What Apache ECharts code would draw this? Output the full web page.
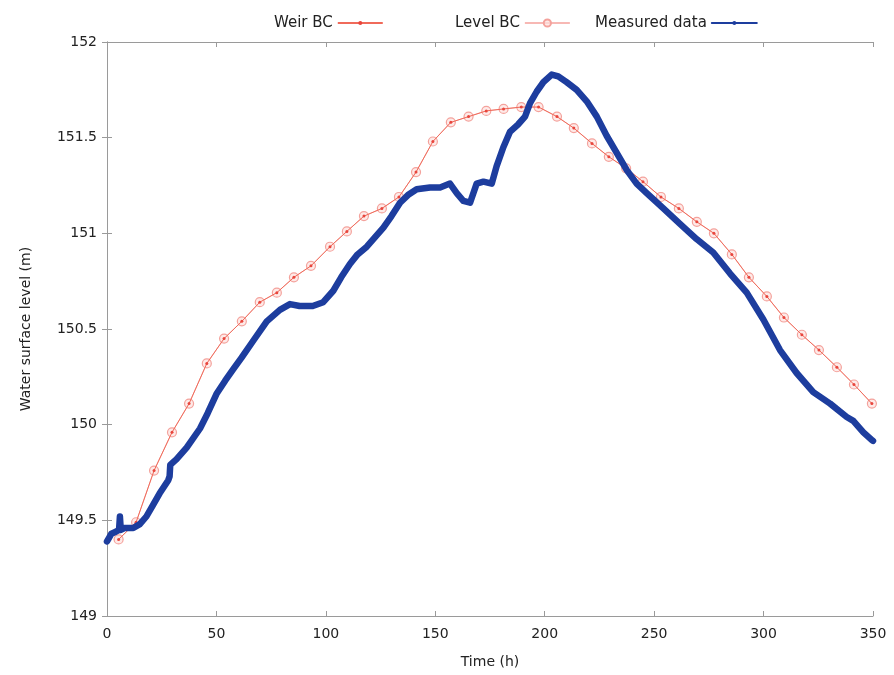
<!DOCTYPE html>
<html>
<head>
<meta charset="utf-8">
<script src="https://cdn.jsdelivr.net/npm/echarts@6/dist/echarts.min.js"></script>
<style>
  html, body { margin: 0; padding: 0; background: #fff; }
  #chart { width: 894px; height: 675px; }
</style>
</head>
<body>
<div id="chart"></div>
<script>
// Boundary-condition model runs (sampled every ~8 h)
const bcTime = [5.3, 13.3, 21.5, 29.7, 37.5, 45.6, 53.5, 61.6, 69.8, 77.6, 85.4, 93.2,
  101.9, 109.6, 117.4, 125.6, 133.4, 141.2, 148.9, 157.1, 165.2, 173.3, 181.2, 189.3,
  197.2, 205.6, 213.3, 221.6, 229.3, 237.2, 244.9, 253.1, 261.3, 269.5, 277.3, 285.5,
  293.3, 301.5, 309.3, 317.5, 325.3, 333.5, 341.3, 349.5];
const weirBC = [149.40, 149.49, 149.76, 149.96, 150.11, 150.32, 150.45, 150.54, 150.64, 150.69, 150.77, 150.83,
  150.93, 151.01, 151.09, 151.13, 151.19, 151.32, 151.48, 151.58, 151.61, 151.64, 151.65, 151.66,
  151.66, 151.61, 151.55, 151.47, 151.40, 151.34, 151.27, 151.19, 151.13, 151.06, 151.00, 150.89,
  150.77, 150.67, 150.56, 150.47, 150.39, 150.30, 150.21, 150.11];
const levelBC = [149.40, 149.49, 149.76, 149.96, 150.11, 150.32, 150.45, 150.54, 150.64, 150.69, 150.77, 150.83,
  150.93, 151.01, 151.09, 151.13, 151.19, 151.32, 151.48, 151.58, 151.61, 151.64, 151.65, 151.66,
  151.66, 151.61, 151.55, 151.47, 151.40, 151.34, 151.27, 151.19, 151.13, 151.06, 151.00, 150.89,
  150.77, 150.67, 150.56, 150.47, 150.39, 150.30, 150.21, 150.11];

// Gauge record
const measuredTime = [0, 1, 2, 4, 5.5, 5.9, 6.3, 8, 12, 15, 18, 21, 24, 28, 28.6, 28.9, 31.8, 36.4,
  42.5, 46, 50, 54, 57.7, 61.5, 66.9, 73, 79, 83.6, 88, 94, 98.8, 103.4, 107, 111, 114.5,
  118.7, 122.5, 126.3, 130, 133.9, 137.5, 141.5, 147.6, 152.2, 156.7, 159.8, 162.8, 165.9,
  168.9, 172, 175.8, 178, 181.1, 184.1, 187.9, 191, 193.3, 196.3, 199.4, 203.2, 206.2, 210,
  214.6, 219.2, 223.8, 228.3, 232.9, 237.5, 242, 246.6, 254.2, 261.8, 269.4, 277, 284.7,
  292.3, 299.9, 307.5, 315.1, 322.7, 330.4, 338, 341, 345.6, 349.4, 350];
const measuredLevel = [149.39, 149.41, 149.43, 149.44, 149.45, 149.52, 149.45, 149.46, 149.46, 149.48,
  149.52, 149.58, 149.64, 149.71, 149.73, 149.79, 149.82, 149.88, 149.98, 150.06, 150.16, 150.23,
  150.29, 150.35, 150.44, 150.54, 150.60, 150.63, 150.62, 150.62, 150.64, 150.70, 150.77, 150.84,
  150.89, 150.93, 150.98, 151.03, 151.09, 151.16, 151.20, 151.23, 151.24, 151.24, 151.26, 151.21,
  151.17, 151.16, 151.26, 151.27, 151.26, 151.35, 151.45, 151.53, 151.57, 151.61, 151.68, 151.74,
  151.79, 151.83, 151.82, 151.79, 151.75, 151.69, 151.61, 151.51, 151.42, 151.33, 151.26, 151.21,
  151.13, 151.05, 150.97, 150.90, 150.79, 150.69, 150.55, 150.39, 150.27, 150.17, 150.11, 150.04,
  150.02, 149.96, 149.92, 149.915];

const xTicks = { min: 0, max: 350, interval: 50 };
const yTicks = { min: 149, max: 152, interval: 0.5 };

const pairs = (xs, ys) => xs.map((x, i) => [x, ys[i]]);

const font = 'DejaVu Sans';
const frame = { show: true, lineStyle: { color: '#9a9a9a', width: 1 } };
const tick = { show: true, inside: true, length: 5, lineStyle: { color: '#9a9a9a' } };

const legendBase = {
  orient: 'horizontal', align: 'right', itemWidth: 45, top: 9,
  textStyle: { fontFamily: font, fontSize: 15, color: '#222', lineHeight: 18 }
};

const chart = echarts.init(document.getElementById('chart'), null, { renderer: 'canvas' });
chart.setOption({
  backgroundColor: '#fff',
  animation: false,
  grid: { left: 107, right: 21, top: 42, bottom: 59 },
  legend: [
    Object.assign({}, legendBase, { left: 269, itemHeight: 5, data: ['Weir BC'] }),
    Object.assign({}, legendBase, { left: 450, itemHeight: 9, data: ['Level BC'] }),
    Object.assign({}, legendBase, { left: 590, itemHeight: 5,
      data: [{ name: 'Measured data', lineStyle: { width: 2 } }] })
  ],
  xAxis: [
    {
      type: 'value', position: 'bottom', ...xTicks,
      name: 'Time (h)', nameLocation: 'middle', nameGap: 39,
      nameTextStyle: { fontFamily: font, fontSize: 14, color: '#222' },
      axisLine: frame, axisTick: tick, splitLine: { show: false },
      axisLabel: { fontFamily: font, fontSize: 14, color: '#222', margin: 11 }
    },
    {
      type: 'value', position: 'top', ...xTicks,
      axisLine: frame, axisTick: tick, splitLine: { show: false },
      axisLabel: { show: false }
    }
  ],
  yAxis: [
    {
      type: 'value', position: 'left', ...yTicks,
      name: 'Water surface level (m)', nameLocation: 'middle', nameGap: 74,
      nameTextStyle: { fontFamily: font, fontSize: 14, color: '#222' },
      axisLine: frame, axisTick: tick, splitLine: { show: false },
      axisLabel: { fontFamily: font, fontSize: 14, color: '#222', margin: 10 }
    },
    {
      type: 'value', position: 'right', ...yTicks,
      axisLine: frame, axisTick: tick, splitLine: { show: false },
      axisLabel: { show: false }
    }
  ],
  series: [
    {
      name: 'Weir BC', type: 'line', xAxisIndex: 0, yAxisIndex: 0, z: 3,
      data: pairs(bcTime, weirBC),
      lineStyle: { color: '#f06a5a', width: 1 },
      symbol: 'circle', symbolSize: 3, showSymbol: true,
      itemStyle: { color: '#e8453c' }
    },
    {
      name: 'Level BC', type: 'line', xAxisIndex: 0, yAxisIndex: 0, z: 2,
      data: pairs(bcTime, levelBC),
      lineStyle: { color: '#f7b8b4', width: 1 },
      symbol: 'circle', symbolSize: 9, showSymbol: true,
      itemStyle: { color: 'rgba(253,225,222,0.7)', borderColor: '#f4a29c', borderWidth: 1.2 }
    },
    {
      name: 'Measured data', type: 'line', xAxisIndex: 0, yAxisIndex: 0, z: 5,
      data: pairs(measuredTime, measuredLevel),
      lineStyle: { color: '#1d3d9e', width: 6.5, join: 'round', cap: 'round' },
      symbol: 'circle', symbolSize: 5, showSymbol: false,
      itemStyle: { color: '#1d3d9e' }
    }
  ]
});
</script>
</body>
</html>
